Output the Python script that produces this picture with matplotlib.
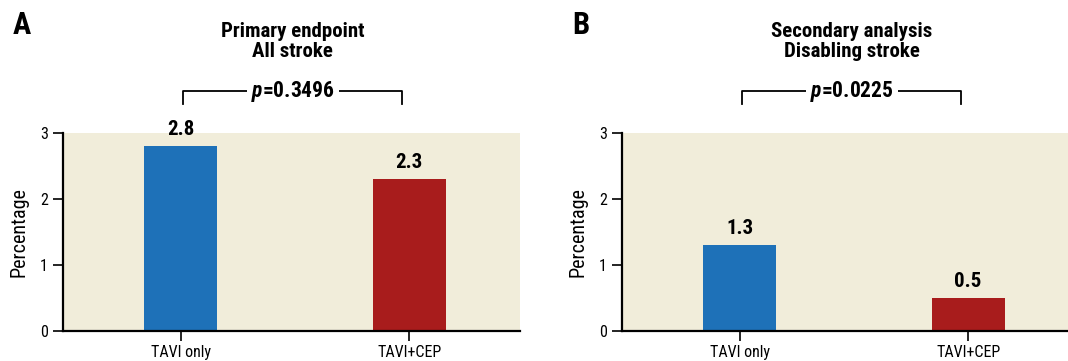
import matplotlib
matplotlib.use("Agg")
import matplotlib.pyplot as plt

groups = ["TAVI only", "TAVI+CEP"]
all_stroke = [2.8, 2.3]
disabling_stroke = [1.3, 0.5]
titles = ["Primary endpoint\nAll stroke", "Secondary analysis\nDisabling stroke"]
p_values = ["0.3496", "0.0225"]
panel_letters = ["A", "B"]

colors = ["#1e71b8", "#a81c1c"]
bg = "#f1edda"
fam = ["Roboto Condensed", "Liberation Sans Narrow", "DejaVu Sans"]
plt.rcParams["font.family"] = fam
plt.rcParams["mathtext.fontset"] = "custom"
plt.rcParams["mathtext.it"] = "Roboto Condensed:italic:bold"
plt.rcParams["mathtext.rm"] = "Roboto Condensed:bold"

fig = plt.figure(figsize=(10.68, 3.61), dpi=100)
W, H = 1068, 361


def draw_panel(left_px, values, title, pval, letter):
    ax = fig.add_axes([left_px / W, 30 / H, 457 / W, 198 / H])
    x = range(len(groups))
    ax.bar(x, values, width=0.32, color=colors)
    ax.set_xlim(-0.515, 1.485)
    ax.set_ylim(0, 3)
    ax.set_facecolor(bg)
    ax.set_yticks([0, 1, 2, 3])
    ax.set_xticks(list(x))
    ax.set_xticklabels(groups, fontsize=11.5)
    ax.tick_params(axis="y", labelsize=11.5, length=7, width=1.2, pad=4)
    ax.tick_params(axis="x", length=7, width=1.2, pad=3)
    for s in ["top", "right"]:
        ax.spines[s].set_visible(False)
    for s in ["left", "bottom"]:
        ax.spines[s].set_linewidth(1.6)
    ax.set_ylabel("Percentage", fontsize=14.5, labelpad=8)
    for xi, v in zip(x, values):
        ax.annotate(f"{v}", (xi, v), xytext=(0, 5), textcoords="offset points",
                    ha="center", va="bottom", fontsize=15, fontweight="bold")
    # bracket with p value
    trans = ax.get_xaxis_transform()
    yb, yt = 1.145, 1.21
    ax.plot([0.01, 0.01, 0.97, 0.97], [yb, yt, yt, yb], color="black", lw=1.3,
            transform=trans, clip_on=False)
    ax.text(0.49, yt, "$p$=" + pval, transform=trans, ha="center", va="center",
            fontsize=15.5, fontweight="bold",
            bbox=dict(facecolor="white", edgecolor="none", pad=3))
    ax.text(0.49, 1.462, title, transform=trans, ha="center", va="center",
            fontsize=15, fontweight="bold", linespacing=1.1)
    fig.text((left_px - 41) / W, 1 - 25 / H, letter, ha="center", va="center",
             fontsize=22, fontweight="bold")
    return ax


draw_panel(63, all_stroke, titles[0], p_values[0], panel_letters[0])
draw_panel(622, disabling_stroke, titles[1], p_values[1], panel_letters[1])

fig.savefig("out.png", dpi=100)
